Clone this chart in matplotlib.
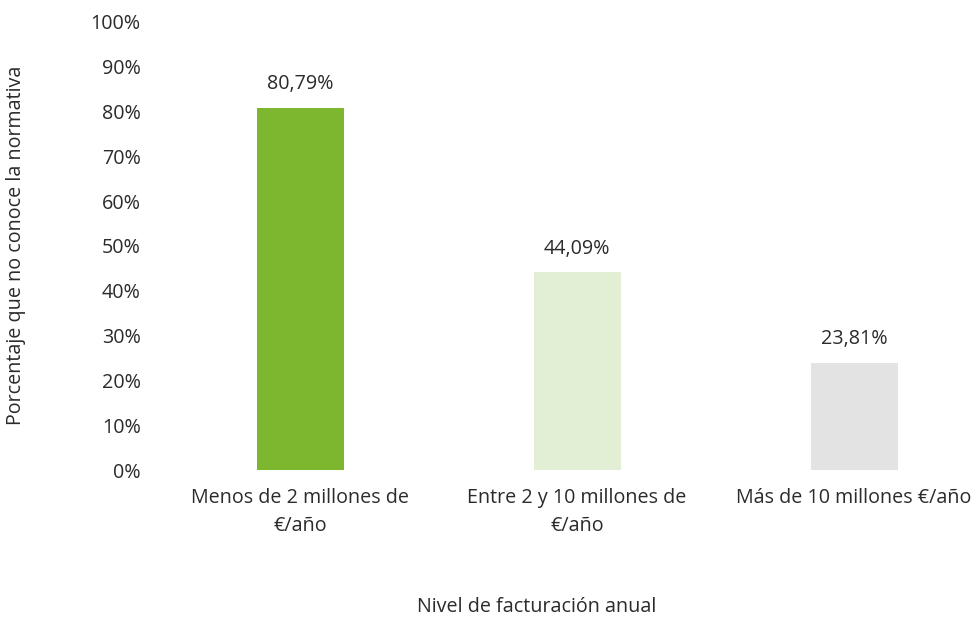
import matplotlib
matplotlib.use("Agg")
import matplotlib.pyplot as plt

categories = ["Menos de 2 millones de\n€/año", "Entre 2 y 10 millones de\n€/año", "Más de 10 millones €/año"]
values = [80.79, 44.09, 23.81]
value_labels = ["80,79%", "44,09%", "23,81%"]
colors = ["#7DB72F", "#E3EFD5", "#E3E3E3"]
yticks = list(range(0, 101, 10))
ytick_labels = [f"{t}%" for t in yticks]

plt.rcParams['font.family'] = ['Open Sans', 'DejaVu Sans']
text_color = "#2b2b2b"
fs = 14.2

fig = plt.figure(figsize=(9.76, 6.19), dpi=100)
ax = fig.add_axes([0.1655, 0.2407, 1 - 0.1655, 0.9645 - 0.2407])

x = list(range(len(categories)))
bars = ax.bar(x, values, width=0.314, color=colors)
for xi, v, lab in zip(x, values, value_labels):
    ax.annotate(lab, (xi, v), xytext=(0, 10), textcoords="offset points",
                ha="center", va="bottom", fontsize=fs, color=text_color)

ax.set_xlim(-0.5, 2.44)
ax.set_ylim(0, 100)
ax.set_yticks(yticks)
ax.set_yticklabels(ytick_labels)
ax.set_xticks(x)
ax.set_xticklabels(categories, linespacing=1.55)
ax.tick_params(axis='y', length=0, pad=15, labelsize=fs, labelcolor=text_color)
ax.tick_params(axis='x', length=0, pad=13, labelsize=fs, labelcolor=text_color)
for s in ax.spines.values():
    s.set_visible(False)

fig.text(0.016, 0.604, "Porcentaje que no conoce la normativa", rotation=90,
         ha="center", va="center", fontsize=fs, color=text_color)
fig.text(0.55, 0.019, "Nivel de facturación anual", ha="center", va="center",
         fontsize=fs, color=text_color)

fig.savefig("out.png", dpi=100)
